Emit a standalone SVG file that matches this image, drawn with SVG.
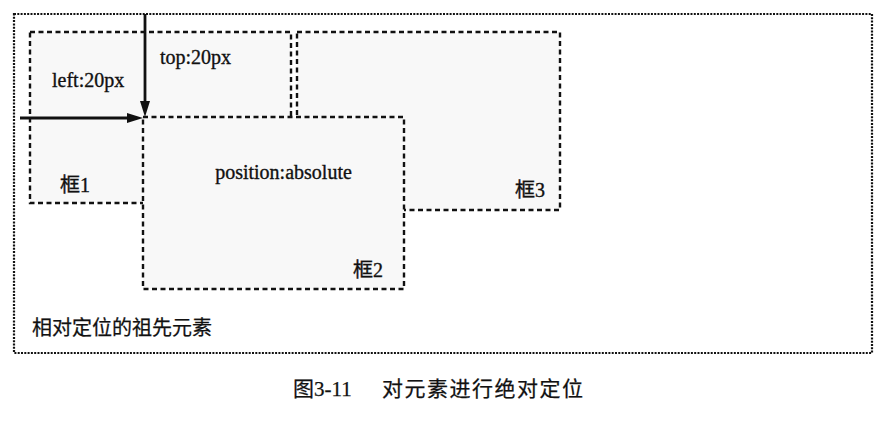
<svg xmlns="http://www.w3.org/2000/svg" width="885" height="423" viewBox="0 0 885 423">
  <style>
    .ancestor { fill: #ffffff; stroke: #111; stroke-width: 2.2; stroke-dasharray: 2 1.3; }
    .box { fill: #f8f8f8; stroke: #111; stroke-width: 2.4; stroke-dasharray: 5 3.5; }
    .lbl { font-family: "Liberation Serif", "Noto Sans CJK SC", serif; font-size: 20px; fill: #111; stroke: #111; stroke-width: 0.35; }
    .cjk { font-family: "Noto Sans CJK SC", sans-serif; font-size: 20px; fill: #111; stroke: #111; stroke-width: 0.25; }
    .cap { font-family: "Liberation Serif", "Noto Sans CJK SC", serif; font-size: 21px; fill: #111; stroke: #111; stroke-width: 0.25; }
    .arrow { stroke: #111; stroke-width: 2.8; fill: none; marker-end: url(#head); }
  </style>
  <defs>
    <marker id="head" viewBox="0 0 16 10" markerUnits="userSpaceOnUse" markerWidth="16" markerHeight="10" refX="4" refY="5" orient="auto">
      <path d="M0,0 L16,5 L0,10 z" fill="#111"/>
    </marker>
  </defs>

  <rect width="885" height="423" fill="#ffffff"/>

  <!-- positioned ancestor (dotted border) -->
  <g id="ancestor">
    <rect class="ancestor" x="14" y="14" width="858" height="339"/>
    <text class="cjk" x="32" y="335">相对定位的祖先元素</text>
  </g>

  <!-- box 1: normal flow -->
  <g id="box1">
    <rect class="box" x="30" y="32" width="261" height="171"/>
    <text class="lbl" x="60" y="192">框1</text>
    <text class="lbl" x="52" y="87">left:20px</text>
    <text class="lbl" x="160" y="64">top:20px</text>
  </g>

  <!-- box 3: normal flow -->
  <g id="box3">
    <rect class="box" x="297" y="32" width="263" height="178"/>
    <text class="lbl" x="515" y="197">框3</text>
  </g>

  <!-- box 2: absolutely positioned, drawn on top -->
  <g id="box2">
    <rect class="box" x="143" y="117" width="261" height="172"/>
    <text class="lbl" x="283.5" y="179" text-anchor="middle">position:absolute</text>
    <text class="lbl" x="353" y="277">框2</text>
  </g>

  <!-- offset arrows -->
  <g id="connectors">
    <line class="arrow" x1="20" y1="118" x2="131" y2="118"/>
    <line class="arrow" x1="145" y1="14" x2="145" y2="105"/>
  </g>

  <!-- figure caption -->
  <g id="caption">
    <text class="cap" x="293" y="396">图3-11</text>
    <text class="cap" x="382" y="396" letter-spacing="1.5">对元素进行绝对定位</text>
  </g>
</svg>
